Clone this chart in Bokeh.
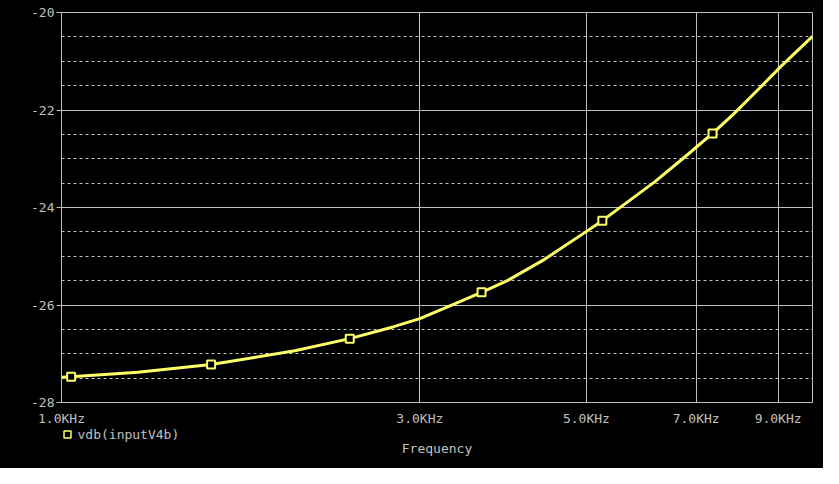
from bokeh.plotting import figure
from bokeh.layouts import column
from bokeh.models import FixedTicker, Range1d
from bokeh.core.properties import value
from bokeh.embed import file_html
from bokeh.resources import INLINE

# data (frequency in Hz, magnitude in dB)
freq_hz = [1000, 1030, 1264, 1582, 2045, 2420, 2763, 3000, 3243, 3625, 3924,
           4380, 4990, 5250, 6170, 6741, 7360, 7830, 8440, 9100, 10000]
vdb = [-27.48, -27.47, -27.38, -27.22, -26.94, -26.69, -26.45, -26.28, -26.06, -25.74, -25.50,
       -25.08, -24.50, -24.27, -23.47, -22.98, -22.48, -22.10, -21.60, -21.09, -20.49]
marker_idx = [1, 3, 5, 9, 13, 16]
series_name = "vdb(inputV4b)"
x_axis_title = "Frequency"
x_ticks = [1000, 3000, 5000, 7000, 9000]
x_tick_labels = ["1.0KHz", "3.0KHz", "5.0KHz", "7.0KHz", "9.0KHz"]
y_ticks = [-28, -26, -24, -22, -20]
y_minor = [-27.5, -27, -26.5, -25.5, -25, -24.5, -23.5, -23, -22.5, -21.5, -21, -20.5]

FONT = "DejaVu Sans Mono"
GRAY = "#c0c0c0"
YELLOW = "#ffff66"
W = 823
BL, BR = 61, 11
FW = W - BL - BR

p = figure(width=W, height=428, output_backend="svg", toolbar_location=None,
           x_axis_type="log", x_range=Range1d(1000, 10000), y_range=Range1d(-28, -20),
           min_border_left=BL, min_border_right=BR, min_border_top=12, min_border_bottom=23,
           background_fill_color="black", border_fill_color="black",
           outline_line_color=GRAY, outline_line_width=1)

p.xaxis.ticker = FixedTicker(ticks=x_ticks, minor_ticks=[])
p.xaxis.major_label_overrides = {t: l for t, l in zip(x_ticks, x_tick_labels)}
p.yaxis.ticker = FixedTicker(ticks=y_ticks, minor_ticks=y_minor)
p.yaxis.major_label_overrides = {t: str(t) for t in y_ticks}

for ax in (p.xaxis, p.yaxis):
    ax.axis_line_color = GRAY
    ax.major_tick_line_color = GRAY
    ax.minor_tick_line_color = None
    ax.major_label_text_color = GRAY
    ax.major_label_text_font = FONT
    ax.major_label_text_font_size = "13px"

p.yaxis.major_tick_out = 5
p.yaxis.major_tick_in = 0
p.yaxis.major_label_standoff = 2
p.xaxis.major_tick_out = 0
p.xaxis.major_tick_in = 0
p.xaxis.major_label_standoff = 8

p.xgrid.grid_line_color = GRAY
p.ygrid.grid_line_color = GRAY
p.ygrid.minor_grid_line_color = GRAY
p.ygrid.minor_grid_line_dash = "3 3"

p.line(freq_hz, vdb, line_color=YELLOW, line_width=3, line_join="round")
mx = [freq_hz[i] for i in marker_idx]
my = [vdb[i] for i in marker_idx]
p.scatter(mx, my, marker="square", size=8, line_color=YELLOW, line_width=2,
          fill_color="black")

# strip below the chart: legend entry and the x-axis title
# (pixel coordinates measured from the frame's left edge, y downward)
p2 = figure(width=W, height=40, output_backend="svg", toolbar_location=None,
            x_range=Range1d(0, FW), y_range=Range1d(40, 0),
            min_border_left=BL, min_border_right=BR, min_border_top=0, min_border_bottom=0,
            x_axis_location=None, y_axis_location=None,
            background_fill_color="black", border_fill_color="black")
p2.outline_line_color = None
p2.xgrid.grid_line_color = None
p2.ygrid.grid_line_color = None
p2.scatter([6], [6], marker="square", size=7, line_color=YELLOW, line_width=1.5,
           fill_color="black")
p2.text([16], [6], text=[series_name], text_color=GRAY, text_font=value(FONT),
        text_font_size="13px", text_baseline="middle", text_align="left")
p2.text([FW / 2], [20], text=[x_axis_title], text_color=GRAY, text_font=value(FONT),
        text_font_size="13px", text_baseline="middle", text_align="center")

layout = column(p, p2, spacing=0, styles={"background-color": "black"})
open("out.html", "w").write(file_html(layout, INLINE))
